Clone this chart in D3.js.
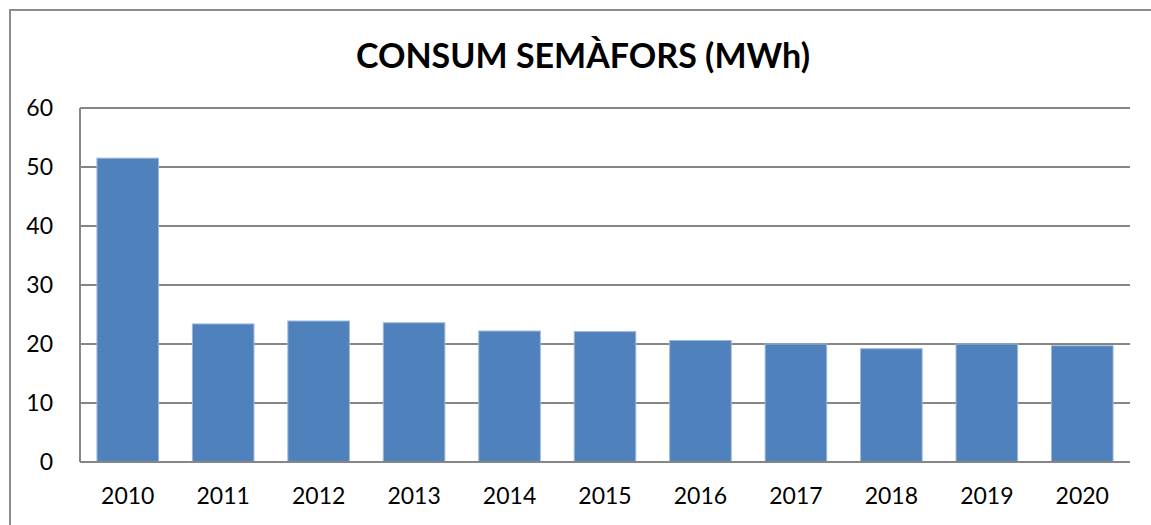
<!DOCTYPE html>
<html lang="ca">
  <head>
    <meta charset="utf-8" />
    <title>Consum semàfors</title>
    <script src="https://cdn.jsdelivr.net/npm/d3@7/dist/d3.min.js"></script>
    <style>
      html, body { margin: 0; padding: 0; background: #fff; }
      svg { display: block; }
    </style>
  </head>
  <body>
    <svg id="chart" width="1151" height="525"></svg>
    <script>
      // data
      const years = ["2010", "2011", "2012", "2013", "2014", "2015", "2016", "2017", "2018", "2019", "2020"];
      const consum = [51.5, 23.4, 23.9, 23.6, 22.2, 22.1, 20.6, 20.0, 19.2, 20.0, 19.7];
      const yTicks = [0, 10, 20, 30, 40, 50, 60];
      const title = "CONSUM SEMÀFORS (MWh)";

      const font = "Lato, 'Open Sans', sans-serif";
      const svg = d3.select("#chart").attr("font-family", font);
      const width = +svg.attr("width");
      const height = +svg.attr("height");

      const margin = { top: 108, right: 21, bottom: 63, left: 80 };
      const innerWidth = width - margin.left - margin.right;
      const innerHeight = height - margin.top - margin.bottom;

      // outer frame (only top and left edges visible)
      svg.append("path")
        .attr("d", `M10,${height} V10 H${width}`)
        .attr("fill", "none")
        .attr("stroke", "#8c8c8c")
        .attr("stroke-width", 2);

      svg.append("text")
        .attr("x", 583)
        .attr("y", 68)
        .attr("text-anchor", "middle")
        .attr("font-size", "34px")
        .attr("font-weight", "700")
        .attr("fill", "#000")
        .text(title);

      const g = svg.append("g")
        .attr("transform", `translate(${margin.left}, ${margin.top})`);

      const x = d3.scaleBand()
        .domain(years)
        .range([0, innerWidth])
        .paddingInner(0.355)
        .paddingOuter(0.355 / 2);

      const y = d3.scaleLinear()
        .domain([0, 60])
        .range([innerHeight, 0]);

      // gridlines
      g.append("g")
        .selectAll("line")
        .data(yTicks)
        .enter()
        .append("line")
        .attr("x1", 0)
        .attr("x2", innerWidth)
        .attr("y1", d => y(d))
        .attr("y2", d => y(d))
        .attr("stroke", "#868686")
        .attr("stroke-width", 2);

      // y axis line
      g.append("line")
        .attr("x1", 0).attr("x2", 0)
        .attr("y1", 0).attr("y2", innerHeight)
        .attr("stroke", "#868686")
        .attr("stroke-width", 2);

      // bars
      g.selectAll(".bar")
        .data(consum)
        .enter()
        .append("rect")
        .attr("class", "bar")
        .attr("x", (d, i) => x(years[i]))
        .attr("y", d => y(d))
        .attr("width", x.bandwidth())
        .attr("height", d => innerHeight - y(d))
        .attr("fill", "#4f81bd")
        .attr("stroke", "#9db7db")
        .attr("stroke-width", 1);

      // redraw baseline over bars
      g.append("line")
        .attr("x1", 0).attr("x2", innerWidth)
        .attr("y1", innerHeight).attr("y2", innerHeight)
        .attr("stroke", "#868686")
        .attr("stroke-width", 2);

      // y tick labels
      const yAxis = g.append("g")
        .call(d3.axisLeft(y).tickValues(yTicks).tickSize(0).tickPadding(27))
        .attr("font-family", font)
        .attr("font-size", 23);
      yAxis.select(".domain").remove();
      yAxis.selectAll("text").attr("fill", "#000");

      // x tick labels
      const xAxis = g.append("g")
        .attr("transform", `translate(0, ${innerHeight})`)
        .call(d3.axisBottom(x).tickSize(0).tickPadding(26))
        .attr("font-family", font)
        .attr("font-size", 23);
      xAxis.select(".domain").remove();
      xAxis.selectAll("text").attr("fill", "#000");
    </script>
  </body>
</html>
